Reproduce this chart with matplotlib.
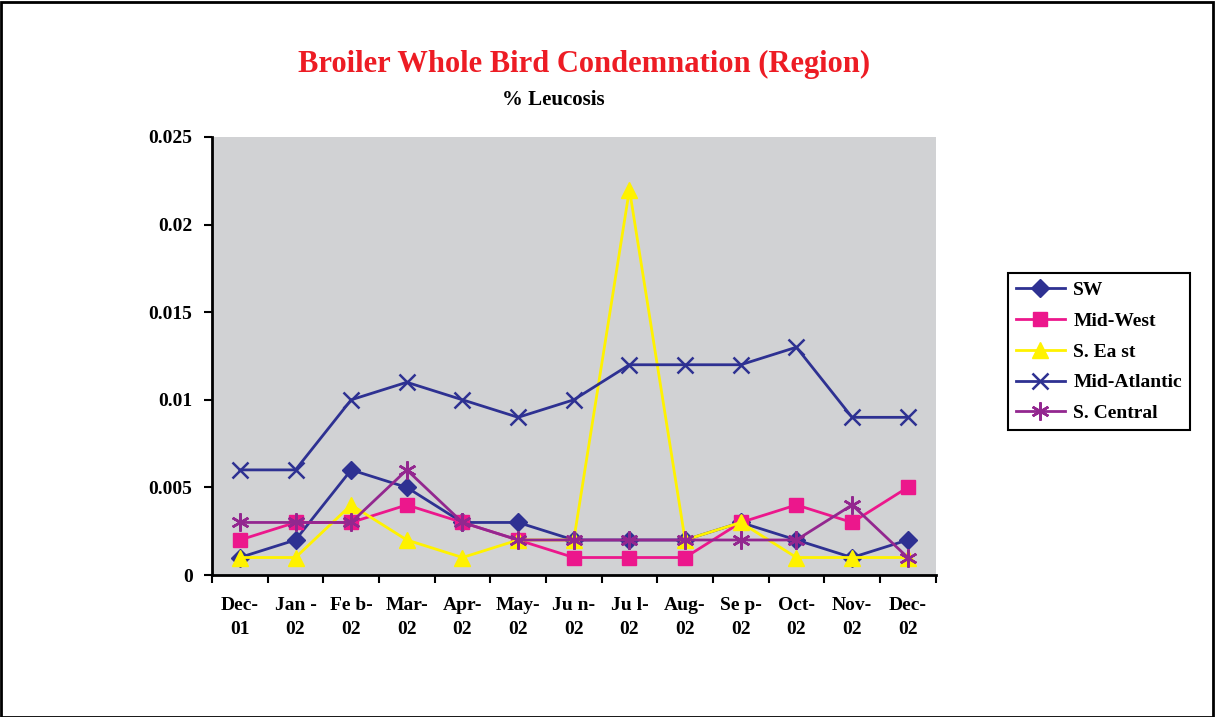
import numpy as np
import matplotlib.pyplot as plt
from matplotlib.patches import Rectangle

months = ['Dec-\n01', 'Jan -\n02', 'Fe b-\n02', 'Mar-\n02', 'Apr-\n02', 'May-\n02', 'Ju n-\n02',
          'Ju l-\n02', 'Aug-\n02', 'Se p-\n02', 'Oct-\n02', 'Nov-\n02', 'Dec-\n02']
sw = [0.001, 0.002, 0.006, 0.005, 0.003, 0.003, 0.002, 0.002, 0.002, 0.003, 0.002, 0.001, 0.002]
mid_west = [0.002, 0.003, 0.003, 0.004, 0.003, 0.002, 0.001, 0.001, 0.001, 0.003, 0.004, 0.003, 0.005]
s_east = [0.001, 0.001, 0.004, 0.002, 0.001, 0.002, 0.002, 0.022, 0.002, 0.003, 0.001, 0.001, 0.001]
mid_atlantic = [0.006, 0.006, 0.010, 0.011, 0.010, 0.009, 0.010, 0.012, 0.012, 0.012, 0.013, 0.009, 0.009]
s_central = [0.003, 0.003, 0.003, 0.006, 0.003, 0.002, 0.002, 0.002, 0.002, 0.002, 0.002, 0.004, 0.001]
yticks = [0, 0.005, 0.01, 0.015, 0.02, 0.025]
ytick_labels = ['0', '0.005', '0.01', '0.015', '0.02', '0.025']

plt.rcParams['font.family'] = ['Liberation Serif', 'DejaVu Serif']
plt.rcParams['font.weight'] = 'bold'

fig = plt.figure(figsize=(12.15, 7.17), dpi=100)
ax = fig.add_axes([0.1745, 0.198, 0.5955, 0.611])
ax.set_facecolor('#d1d2d4')

x = np.arange(len(months))
series = [
    ('SW', sw, '#2e3192', dict(marker='D', ms=9)),
    ('Mid-West', mid_west, '#ec178c', dict(marker='s', ms=10)),
    ('S. Ea st', s_east, '#fff200', dict(marker='^', ms=12)),
    ('Mid-Atlantic', mid_atlantic, '#2e3192', dict(marker='x', ms=11, mew=1.8)),
    ('S. Central', s_central, '#93278f', dict(marker=(6, 2, 0), ms=13, mew=1.8)),
]
for name, vals, col, mk in series:
    ax.plot(x, vals, color=col, lw=2, label=name, **mk)

ax.set_xlim(-0.5, len(months) - 0.5)
ax.set_ylim(0, 0.025)
ax.set_yticks(yticks)
ax.set_yticklabels(ytick_labels, fontsize=14, fontweight='bold')
ax.set_xticks(x)
ax.set_xticklabels(months, fontsize=14, fontweight='bold', linespacing=1.55)
ax.set_xticks(np.arange(-0.5, len(months)), minor=True)
ax.tick_params(axis='x', which='major', length=0, pad=16)
ax.tick_params(axis='x', which='minor', length=6, width=1.5, direction='out')
ax.tick_params(axis='y', length=6, width=1.5, direction='out', pad=8)
for s in ['top', 'right']:
    ax.spines[s].set_visible(False)
for s in ['left', 'bottom']:
    ax.spines[s].set_linewidth(2)

fig.text(0.481, 0.910, 'Broiler Whole Bird Condemnation (Region)', color='#ed1c24',
         fontsize=22, fontweight='bold', ha='center', va='center')
fig.text(0.455, 0.861, '% Leucosis', fontsize=15, fontweight='bold', ha='center', va='center')

leg = fig.legend(loc='upper left', bbox_to_anchor=(0.8295, 0.619), fontsize=14,
                 fancybox=False, edgecolor='black', framealpha=1, borderpad=0.42,
                 handlelength=2.5, handletextpad=0.45, labelspacing=0.68, borderaxespad=0)
leg.get_frame().set_linewidth(1.5)

fig.patches.append(Rectangle((0.001, 0.0), 0.997, 0.997, transform=fig.transFigure,
                             fill=False, edgecolor='black', lw=2))

fig.savefig('out.png', dpi=100)
